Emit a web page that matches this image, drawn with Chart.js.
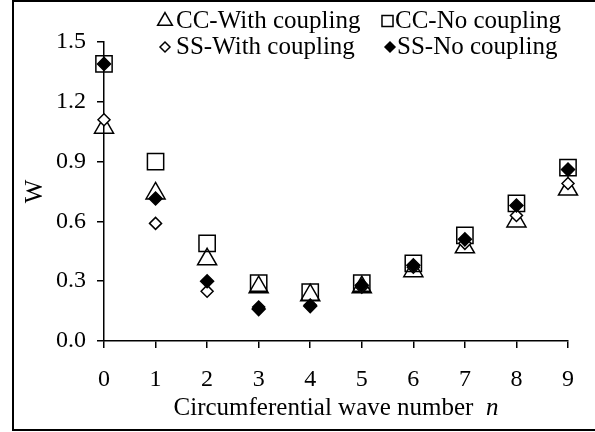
<!DOCTYPE html>
<html lang="en">
<head>
<meta charset="UTF-8">
<title>W vs circumferential wave number</title>
<script src="https://cdn.jsdelivr.net/npm/chart.js@4/dist/chart.umd.min.js"></script>
<style>
  html, body { margin: 0; padding: 0; background: #fff; }
  #wrap { width: 595px; height: 432px; }
</style>
</head>
<body>
<div id="wrap"><canvas id="chart" width="595" height="432"></canvas></div>
<script>
// values
const waveNumbers = [0, 1, 2, 3, 4, 5, 6, 7, 8, 9];
const ccWithCoupling = [1.07, 0.74, 0.41, 0.27, 0.23, 0.27, 0.35, 0.47, 0.60, 0.76];
const ccNoCoupling   = [1.39, 0.90, 0.49, 0.29, 0.245, 0.29, 0.39, 0.53, 0.69, 0.87];
const ssWithCoupling = [1.11, 0.59, 0.25, 0.17, 0.18, 0.27, 0.37, 0.49, 0.63, 0.79];
const ssNoCoupling   = [1.39, 0.715, 0.30, 0.16, 0.175, 0.28, 0.38, 0.51, 0.68, 0.86];
const yTicks = [0.0, 0.3, 0.6, 0.9, 1.2, 1.5];

const FONT = 'Liberation Serif, Times New Roman, serif';
const toPoints = vals => vals.map((v, i) => ({ x: waveNumbers[i], y: v }));

const series = [
  { label: 'CC-With coupling', data: ccWithCoupling, pointStyle: 'triangle', radius: 11, fill: 'rgba(0,0,0,0)', order: 4 },
  { label: 'CC-No coupling',   data: ccNoCoupling,   pointStyle: 'rect',     radius: 11.5, fill: 'rgba(0,0,0,0)', order: 3 },
  { label: 'SS-With coupling', data: ssWithCoupling, pointStyle: 'rectRot',  radius: 6,  fill: '#fff', order: 2 },
  { label: 'SS-No coupling',   data: ssNoCoupling,   pointStyle: 'rectRot',  radius: 6.5, fill: '#000', order: 1 }
];

// legend markers are drawn smaller, like the spreadsheet legend
const legendItems = [
  { s: 0, mx: 165, tx: 176, y: 21, r: 8.5 },
  { s: 1, mx: 387.5, tx: 395, y: 21, r: 7.8 },
  { s: 2, mx: 165, tx: 176, y: 47, r: 5 },
  { s: 3, mx: 390, tx: 397, y: 47, r: 5 }
];

const framePlugin = {
  id: 'frame',
  beforeDraw(chart) {
    const ctx = chart.ctx;
    ctx.save();
    ctx.fillStyle = '#fff';
    ctx.fillRect(0, 0, chart.width, chart.height);
    ctx.strokeStyle = '#000';
    ctx.lineWidth = 2;
    ctx.strokeRect(13, 1, 700, 429);
    ctx.restore();
  }
};

const textPlugin = {
  id: 'texts',
  afterDraw(chart) {
    const ctx = chart.ctx;
    const area = chart.chartArea;
    ctx.save();
    ctx.fillStyle = '#000';
    ctx.textBaseline = 'middle';

    // x axis title with italic n
    const a = 'Circumferential wave number  ';
    const b = 'n';
    ctx.font = '25px ' + FONT;
    const wa = ctx.measureText(a).width;
    ctx.font = 'italic 25px ' + FONT;
    const wb = ctx.measureText(b).width;
    let x0 = (area.left + area.right) / 2 - (wa + wb) / 2;
    ctx.textAlign = 'left';
    ctx.font = '25px ' + FONT;
    ctx.fillText(a, x0, 408);
    ctx.font = 'italic 25px ' + FONT;
    ctx.fillText(b, x0 + wa, 408);

    // legend
    ctx.font = '25px ' + FONT;
    legendItems.forEach(it => {
      const s = series[it.s];
      ctx.save();
      ctx.lineWidth = 1.5;
      ctx.strokeStyle = '#000';
      ctx.fillStyle = s.fill;
      Chart.helpers.drawPoint(ctx, { pointStyle: s.pointStyle, radius: it.r, rotation: 0, borderWidth: 1.5 }, it.mx, it.y);
      ctx.restore();
      ctx.fillText(s.label, it.tx, it.y);
    });
    ctx.restore();
  }
};

new Chart(document.getElementById('chart'), {
  type: 'scatter',
  data: {
    datasets: series.map(s => ({
      label: s.label,
      data: toPoints(s.data),
      pointStyle: s.pointStyle,
      pointRadius: s.radius,
      pointHoverRadius: s.radius,
      pointBackgroundColor: s.fill,
      pointBorderColor: '#000',
      pointBorderWidth: 1.5,
      showLine: false,
      clip: false,
      order: s.order
    }))
  },
  options: {
    responsive: false,
    animation: false,
    devicePixelRatio: 1,
    layout: { padding: { left: 0, right: 27, top: 42, bottom: 0 } },
    plugins: {
      legend: { display: false },
      tooltip: { enabled: false }
    },
    scales: {
      x: {
        type: 'linear',
        min: 0,
        max: 9,
        afterFit: scale => { scale.height = 91; },
        ticks: { stepSize: 1, color: '#000', padding: 17, font: { family: FONT, size: 24 } },
        grid: { drawOnChartArea: false, drawTicks: true, tickLength: 7, color: '#000', lineWidth: 1.5 },
        border: { display: true, color: '#000', width: 1.5 }
      },
      y: {
        min: 0,
        max: 1.5,
        afterFit: scale => { scale.width = 104; },
        afterBuildTicks: scale => { scale.ticks = yTicks.map(v => ({ value: v })); },
        ticks: {
          color: '#000',
          padding: 11,
          font: { family: FONT, size: 24 },
          callback: v => Number(v).toFixed(1)
        },
        grid: { drawOnChartArea: false, drawTicks: true, tickLength: 7, color: '#000', lineWidth: 1.5 },
        border: { display: true, color: '#000', width: 1.5 },
        title: { display: true, text: 'W', color: '#000', padding: { top: 20, bottom: 0 }, font: { family: FONT, size: 25 } }
      }
    }
  },
  plugins: [framePlugin, textPlugin]
});
</script>
</body>
</html>
